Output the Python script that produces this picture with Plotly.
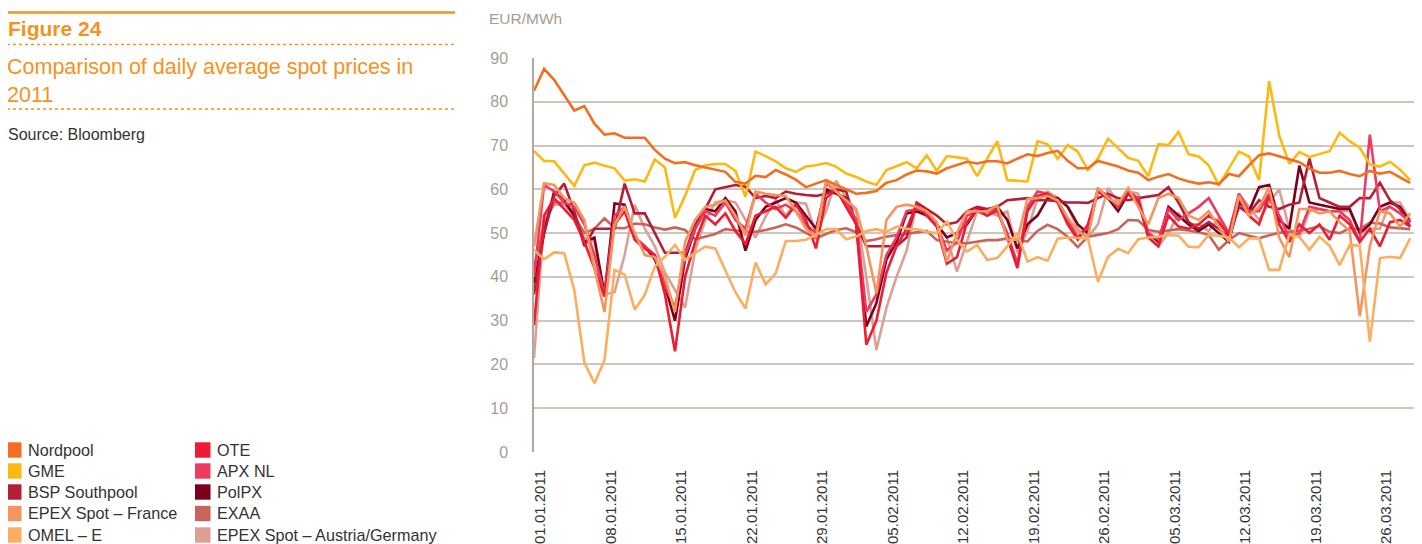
import plotly.graph_objects as go
import pandas as pd

# daily dates shown on the category axis
dates = pd.date_range("2011-01-01", "2011-03-29", freq="D")
tick_dates = ["2011-01-01", "2011-01-08", "2011-01-15", "2011-01-22", "2011-01-29",
              "2011-02-05", "2011-02-12", "2011-02-19", "2011-02-26", "2011-03-05",
              "2011-03-12", "2011-03-19", "2011-03-26"]
tick_text = ["01.01.2011", "08.01.2011", "15.01.2011", "22.01.2011", "29.01.2011",
             "05.02.2011", "12.02.2011", "19.02.2011", "26.02.2011", "05.03.2011",
             "12.03.2011", "19.03.2011", "26.03.2011"]

nordpool = [82.5, 87.5, 85.0, 81.5, 78.0, 79.0, 75.0, 72.5, 72.8, 71.8,
            71.8, 71.8, 69.0, 67.0, 66.0, 66.2, 65.5, 65.0, 64.5, 64.0,
            61.7, 61.3, 63.1, 62.8, 64.4, 63.4, 62.2, 60.5, 61.3, 62.1,
            61.0, 60.0, 59.0, 59.2, 59.6, 61.5, 62.1, 63.4, 64.3, 64.1,
            63.6, 64.8, 65.6, 66.3, 65.9, 66.4, 66.4, 65.9, 67.0, 68.0,
            67.6, 68.3, 68.8, 66.5, 64.8, 64.8, 66.5, 65.9, 65.2, 64.3,
            63.8, 62.1, 62.9, 63.5, 62.5, 61.8, 61.3, 61.6, 61.2, 63.5,
            63.0, 65.5, 67.8, 68.2, 67.5, 66.8, 66.2, 64.8, 63.8, 63.8,
            64.2, 63.5, 63.0, 64.2, 63.6, 64.0, 62.8, 61.5]
gme = [68.8, 66.5, 66.4, 63.6, 60.8, 65.5, 66.1, 65.4, 64.8, 62.0,
       62.3, 61.8, 66.8, 65.0, 53.5, 58.5, 64.4, 65.5, 65.8, 65.8,
       64.2, 58.3, 68.6, 67.6, 66.4, 64.8, 64.0, 65.2, 65.5, 66.0,
       65.2, 63.6, 62.8, 61.8, 61.0, 64.4, 65.3, 66.2, 64.8, 67.8,
       64.2, 67.6, 67.3, 67.0, 63.0, 67.0, 71.0, 62.1, 62.0, 61.8,
       71.0, 70.3, 67.0, 70.1, 68.6, 64.4, 67.0, 71.6, 69.4, 67.2,
       66.5, 63.0, 70.3, 70.1, 73.1, 68.0, 67.5, 65.5, 60.9, 64.8,
       68.6, 67.5, 62.1, 84.7, 72.3, 65.8, 68.5, 67.4, 68.0, 68.7,
       72.9, 71.0, 69.5, 65.7, 65.2, 66.3, 64.5, 62.1]
bsp_southpool = [36.0, 50.0, 58.5, 61.3, 55.0, 47.0, 51.0, 51.0, 51.0, 61.3,
                 54.5, 54.5, 50.0, 45.5, 45.5, 45.5, 52.0, 55.5, 60.0, 60.5,
                 61.0, 60.6, 58.0, 58.5, 58.0, 59.5, 59.0, 58.7, 58.5, 59.0,
                 60.0, 59.5, 52.0, 47.0, 47.0, 47.0, 47.0, 49.0, 57.0, 55.5,
                 54.0, 52.0, 52.5, 55.0, 56.0, 55.5, 56.0, 57.5, 57.8, 58.0,
                 57.5, 57.5, 57.3, 57.0, 57.0, 56.9, 58.0, 59.0, 58.0, 57.5,
                 58.0, 58.3, 58.7, 60.5, 57.0, 52.5, 51.0, 52.5, 51.0, 49.0,
                 56.0, 54.5, 57.5, 56.0, 55.5, 56.5, 57.0, 67.0, 58.0, 57.0,
                 56.0, 56.0, 58.0, 58.0, 61.5, 57.5, 55.5, 51.5]
epex_france = [47.0, 61.4, 61.0, 58.0, 57.0, 53.0, 42.0, 32.0, 52.0, 56.0,
               50.0, 45.0, 44.5, 40.0, 32.0, 48.0, 53.0, 56.0, 56.5, 57.5,
               54.0, 49.5, 59.5, 59.0, 58.7, 58.5, 55.0, 51.0, 49.0, 61.9,
               59.5, 57.5, 55.5, 47.0, 36.3, 53.0, 56.0, 56.5, 56.0, 55.0,
               52.5, 43.5, 50.0, 55.0, 55.0, 55.0, 56.3, 48.5, 48.5, 57.8,
               58.0, 58.5, 57.5, 53.5, 50.5, 49.0, 60.3, 58.0, 56.6, 60.3,
               56.0, 52.0, 58.0, 59.0, 58.0, 54.0, 53.0, 55.0, 51.5, 48.0,
               58.5, 54.0, 56.0, 60.5, 49.0, 44.5, 55.5, 55.5, 54.5, 55.0,
               52.5, 50.5, 31.0, 47.0, 55.0, 54.5, 51.5, 54.5]
omel = [46.2, 44.0, 45.6, 45.4, 37.0, 20.5, 15.7, 21.0, 41.6, 40.5,
        32.5, 35.9, 42.4, 44.6, 47.3, 43.9, 45.5, 46.9, 46.5, 41.5,
        36.5, 32.8, 43.3, 38.3, 40.8, 48.2, 48.2, 48.5, 49.6, 50.9,
        50.9, 48.6, 49.2, 50.5, 50.9, 50.3, 51.5, 51.0, 50.9, 50.3,
        50.0, 52.6, 48.4, 45.8, 47.3, 43.9, 44.3, 47.0, 50.0, 43.5,
        44.5, 43.7, 48.7, 49.0, 48.9, 48.8, 38.9, 44.6, 46.4, 45.4,
        48.6, 49.0, 49.2, 49.6, 49.4, 46.9, 46.8, 49.6, 49.4, 49.0,
        46.8, 48.8, 48.8, 41.6, 41.6, 49.6, 49.2, 46.2, 49.2, 47.1,
        42.7, 47.3, 47.1, 25.2, 44.3, 44.6, 44.3, 48.8]
ote = [29.0, 54.0, 58.0, 55.5, 53.0, 48.0, 42.0, 35.5, 52.0, 55.0,
       48.5, 46.5, 45.0, 36.0, 23.0, 40.0, 48.0, 54.0, 52.0, 54.5,
       50.5, 47.5, 54.0, 55.0, 56.0, 53.5, 56.5, 53.0, 46.5, 58.0,
       60.0, 56.0, 52.0, 24.5, 30.0, 41.0, 47.0, 51.0, 56.5, 54.0,
       51.5, 43.0, 44.5, 52.5, 55.5, 54.0, 55.5, 49.0, 42.0, 55.0,
       58.5, 59.0, 57.0, 52.0, 48.5, 52.0, 59.5, 58.0, 56.5, 59.0,
       57.5, 49.0, 47.0, 54.0, 51.5, 51.0, 52.0, 54.0, 52.5, 49.5,
       58.0, 54.0, 52.0, 58.5, 52.0, 48.0, 52.0, 50.0, 52.0, 48.5,
       54.0, 52.0, 48.0, 51.0, 47.0, 52.5, 53.0, 51.5]
apx_nl = [40.0, 61.0, 59.5, 57.0, 56.0, 52.0, 45.0, 36.0, 54.0, 56.0,
          49.0, 47.0, 45.0, 38.0, 33.0, 45.0, 51.0, 55.0, 54.0, 57.0,
          53.0, 51.0, 59.0, 57.0, 55.5, 56.5, 55.0, 52.0, 50.0, 61.5,
          59.5, 57.0, 53.0, 32.0, 36.0, 45.0, 49.0, 55.0, 55.5, 55.0,
          52.0, 46.0, 48.0, 54.0, 55.0, 54.0, 55.0, 50.0, 43.0, 56.0,
          59.5, 59.0, 57.5, 53.0, 49.0, 51.5, 60.0, 58.5, 56.0, 59.5,
          58.0, 50.0, 48.5, 55.5, 53.0, 54.5, 56.0, 58.0, 54.0, 50.0,
          59.0, 55.0, 55.0, 59.0, 54.0, 49.0, 50.0, 56.0, 55.5, 55.0,
          55.0, 53.0, 48.0, 72.5, 55.0, 56.0, 54.5, 52.5]
polpx = [38.5, 50.0, 59.5, 57.5, 54.0, 48.0, 49.0, 36.0, 56.8, 56.5,
         49.0, 47.0, 44.0, 38.0, 30.0, 44.0, 51.0, 55.5, 55.0, 58.0,
         55.0, 46.0, 53.0, 56.0, 57.0, 58.0, 57.0, 54.0, 51.0, 60.0,
         59.0, 58.0, 52.0, 28.7, 34.0, 44.0, 48.0, 54.5, 55.0, 54.0,
         52.0, 49.0, 50.0, 52.0, 55.5, 55.0, 56.0, 53.0, 46.5, 52.0,
         54.0, 58.0, 58.0, 56.0, 52.0, 50.0, 60.0, 58.0, 55.0, 59.0,
         57.0, 50.0, 48.0, 56.0, 54.0, 52.0, 50.5, 52.0, 50.0, 48.0,
         57.0, 55.0, 60.5, 61.0, 53.0, 51.0, 65.4, 57.0, 56.5, 56.0,
         55.5, 55.5, 50.0, 52.0, 56.0, 57.0, 56.0, 52.5]
exaa = [42.0, 52.0, 57.0, 57.0, 54.0, 50.0, 51.0, 53.4, 51.2, 51.1,
        52.2, 52.0, 51.3, 50.8, 51.3, 50.7, 48.6, 49.2, 49.8, 50.9,
        50.6, 50.3, 50.3, 50.7, 51.3, 52.0, 51.3, 50.0, 48.8, 49.8,
        50.7, 51.1, 50.2, 48.2, 48.6, 49.2, 49.5, 49.8, 50.2, 50.5,
        48.4, 48.0, 47.7, 47.7, 48.1, 48.4, 48.4, 48.8, 48.3, 48.1,
        50.5, 51.9, 50.9, 49.2, 46.8, 49.2, 49.6, 50.0, 50.9, 53.0,
        52.9, 50.7, 50.3, 50.6, 50.9, 50.6, 50.2, 49.6, 46.2, 48.4,
        50.0, 49.4, 48.8, 49.5, 50.1, 50.3, 50.5, 51.0, 51.6, 50.3,
        50.0, 51.1, 50.9, 52.4, 52.2, 51.3, 51.1, 50.9]
epex_at_de = [21.5, 53.0, 56.5, 56.5, 54.0, 49.0, 48.0, 36.0, 36.5, 45.0,
              56.5, 51.0, 47.0, 41.0, 37.0, 33.0, 46.0, 53.0, 57.0, 57.5,
              57.0, 53.0, 49.0, 53.8, 57.5, 54.0, 57.0, 56.7, 50.0, 55.0,
              62.0, 58.0, 55.0, 40.0, 23.3, 33.0, 40.0, 46.0, 56.7, 55.0,
              52.0, 49.0, 41.2, 48.0, 55.0, 55.0, 54.0, 55.0, 45.5, 50.5,
              58.0, 59.5, 58.0, 56.0, 51.0, 49.0, 52.0, 60.3, 57.0, 59.5,
              59.0, 49.0, 47.0, 50.0, 54.5, 52.0, 52.0, 50.5, 53.5, 49.5,
              59.0, 56.0, 53.0, 57.0, 60.0, 51.0, 49.0, 55.0, 55.5, 55.0,
              55.0, 55.0, 50.0, 51.0, 51.0, 57.0, 57.0, 53.0]

# drawing order (last on top) and legend order
draw = [
    ("EPEX Spot – Austria/Germany", epex_at_de, "#DBA093"),
    ("EXAA", exaa, "#C8645A"),
    ("PolPX", polpx, "#7C0019"),
    ("BSP Southpool", bsp_southpool, "#B41E36"),
    ("APX NL", apx_nl, "#EE3A60"),
    ("OTE", ote, "#ED1B34"),
    ("EPEX Spot – France", epex_france, "#F4955E"),
    ("OMEL – E", omel, "#FBAE5F"),
    ("GME", gme, "#FDB913"),
    ("Nordpool", nordpool, "#F26F21"),
]
legend_left = ["Nordpool", "GME", "BSP Southpool", "EPEX Spot – France", "OMEL – E"]
legend_right = ["OTE", "APX NL", "PolPX", "EXAA", "EPEX Spot – Austria/Germany"]
colours = {name: col for name, _, col in draw}

ORANGE = "#F6921E"
GREY = "#A99C90"
FONT = "Liberation Sans, Arial, sans-serif"

# plot area in page pixels; the page puts the figure 8px in from the corner
OFF = 8
L, R, T, B = 534, 1416, 58, 452
W, H = 1422, 544


def px(x):
    return (x - L) / (R - L)


def py(y):
    return (B - y) / (B - T)


fig = go.Figure()
for name, vals, col in draw:
    fig.add_trace(go.Scatter(x=dates, y=vals, mode="lines", name=name,
                             line=dict(color=col, width=2.6), showlegend=False))

shapes = [
    dict(type="line", xref="paper", yref="paper", x0=px(6), x1=px(455), y0=py(12.5), y1=py(12.5),
         line=dict(color=ORANGE, width=2.5)),
    dict(type="line", xref="paper", yref="paper", x0=px(7), x1=px(455), y0=py(44.5), y1=py(44.5),
         line=dict(color=ORANGE, width=1.3, dash="dot")),
    dict(type="line", xref="paper", yref="paper", x0=px(7), x1=px(455), y0=py(109), y1=py(109),
         line=dict(color=ORANGE, width=1.3, dash="dot")),
]

annotations = [
    dict(text="<b>Figure 24</b>", x=px(6), y=py(29), xanchor="left", yanchor="middle",
         font=dict(size=21, color=ORANGE, family=FONT)),
    dict(text="Comparison of daily average spot prices in<br>2011", x=px(5), y=py(53),
         xanchor="left", yanchor="top", align="left",
         font=dict(size=21.5, color=ORANGE, family=FONT)),
    dict(text="Source: Bloomberg", x=px(6), y=py(134), xanchor="left", yanchor="middle",
         font=dict(size=16, color="#333333", family=FONT)),
    dict(text="EUR/MWh", x=px(487), y=py(19), xanchor="left", yanchor="middle",
         font=dict(size=15.5, color=GREY, family=FONT)),
]

rows_y = [450, 471, 492, 513.5, 535]
for col_x, names in ((6, legend_left), (195, legend_right)):
    for yy, name in zip(rows_y, names):
        shapes.append(dict(type="rect", xref="paper", yref="paper",
                           x0=px(col_x), x1=px(col_x + 15.5), y0=py(yy - 7.7), y1=py(yy + 7.7),
                           fillcolor=colours[name], line=dict(width=0)))
        annotations.append(dict(text=name, x=px(col_x + 20), y=py(yy), xanchor="left",
                                yanchor="middle",
                                font=dict(size=16.2, color="#333333", family=FONT)))

for a in annotations:
    a.update(xref="paper", yref="paper", showarrow=False)

fig.update_layout(
    width=W, height=H,
    margin=dict(l=L - OFF, r=W - R + OFF, t=T - OFF, b=H - B + OFF),
    paper_bgcolor="white", plot_bgcolor="white",
    showlegend=False,
    shapes=shapes,
    annotations=annotations,
    font=dict(family=FONT),
)
fig.update_xaxes(
    range=[pd.Timestamp("2011-01-01"), pd.Timestamp("2011-03-29 14:00")],
    tickvals=[pd.Timestamp(d) + pd.Timedelta(hours=15) for d in tick_dates],
    ticktext=tick_text,
    tickangle=-90, showgrid=False, zeroline=False,
    showline=False, ticks="", automargin=False,
    tickfont=dict(size=15, color="#333333", family=FONT),
    ticklabelstandoff=14,
)
fig.update_yaxes(
    range=[0, 90], dtick=10, showgrid=True, gridcolor="#CFC6BD", gridwidth=1.5,
    zeroline=False, showline=True, linecolor="#B3A89D", linewidth=1.5,
    ticks="", automargin=False, tickfont=dict(size=16, color=GREY, family=FONT),
    ticklabelstandoff=21,
)

fig.write_html("out.html")
